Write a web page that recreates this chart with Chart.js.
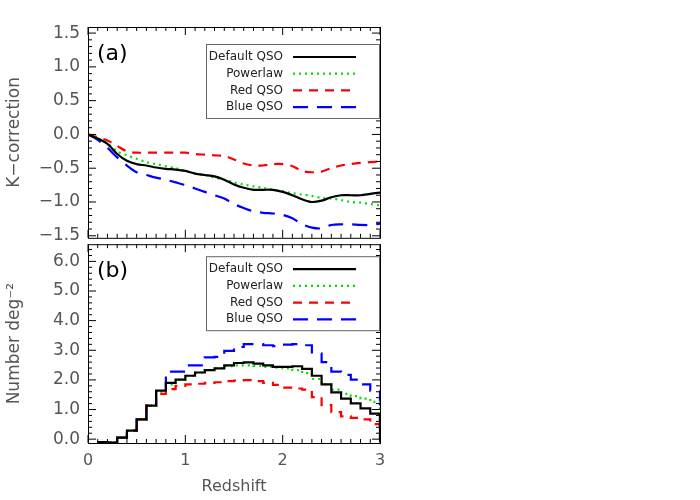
<!DOCTYPE html>
<html><head><meta charset="utf-8">
<script src="https://cdn.jsdelivr.net/npm/chart.js@4/dist/chart.umd.min.js"></script>
<style>body{margin:0;background:#fff;width:700px;height:500px;position:relative;overflow:hidden}
canvas{position:absolute;left:0}</style></head><body>
<canvas id="c1" width="700" height="256" style="top:0"></canvas>
<canvas id="c2" width="700" height="274" style="top:226px"></canvas>
<script>
// ---- data ----
const zK = [0,0.1,0.2,0.3,0.4,0.5,0.6,0.7,0.8,0.9,1.0,1.1,1.2,1.3,1.4,1.5,1.6,1.7,1.8,1.9,2.0,2.1,2.2,2.3,2.4,2.5,2.6,2.7,2.8,2.9,3.0];
const kDefault = [0,-0.06,-0.14,-0.29,-0.39,-0.44,-0.46,-0.49,-0.51,-0.52,-0.54,-0.58,-0.60,-0.62,-0.67,-0.74,-0.79,-0.82,-0.82,-0.82,-0.85,-0.90,-0.96,-1.00,-0.98,-0.93,-0.90,-0.90,-0.90,-0.88,-0.86];
const kPowerlaw = [0,-0.06,-0.13,-0.25,-0.31,-0.36,-0.41,-0.44,-0.47,-0.50,-0.54,-0.58,-0.60,-0.64,-0.67,-0.71,-0.74,-0.77,-0.79,-0.82,-0.84,-0.87,-0.89,-0.91,-0.94,-0.95,-0.97,-1.00,-1.01,-1.03,-1.05];
const kRed = [0,-0.04,-0.09,-0.17,-0.25,-0.27,-0.27,-0.27,-0.27,-0.27,-0.27,-0.29,-0.30,-0.31,-0.32,-0.37,-0.43,-0.46,-0.46,-0.44,-0.44,-0.47,-0.54,-0.56,-0.55,-0.50,-0.46,-0.44,-0.42,-0.41,-0.40];
const kBlue = [0,-0.08,-0.20,-0.34,-0.46,-0.56,-0.60,-0.64,-0.67,-0.71,-0.75,-0.80,-0.85,-0.90,-0.95,-1.03,-1.09,-1.14,-1.16,-1.17,-1.19,-1.24,-1.33,-1.38,-1.39,-1.34,-1.33,-1.33,-1.34,-1.34,-1.32];
const zBin = [0.1,0.2,0.3,0.4,0.5,0.6,0.7,0.8,0.9,1.0,1.1,1.2,1.3,1.4,1.5,1.6,1.7,1.8,1.9,2.0,2.1,2.2,2.3,2.4,2.5,2.6,2.7,2.8,2.9,3.0];
const nDefault = [-0.1,-0.12,0.05,0.29,0.67,1.13,1.64,1.90,2.01,2.14,2.25,2.33,2.39,2.49,2.57,2.59,2.55,2.49,2.44,2.44,2.46,2.37,2.14,1.85,1.58,1.37,1.21,1.04,0.86,0.0];
const nPowerlaw = [-0.1,-0.12,0.05,0.29,0.67,1.13,1.60,1.85,2.01,2.14,2.25,2.33,2.39,2.46,2.49,2.49,2.47,2.44,2.41,2.39,2.33,2.23,2.03,1.85,1.67,1.53,1.45,1.37,1.26,0.0];
const nRed = [-0.1,-0.12,0.05,0.29,0.67,1.13,1.53,1.69,1.80,1.85,1.87,1.90,1.92,1.96,1.98,1.99,1.96,1.90,1.83,1.74,1.71,1.67,1.42,1.15,0.91,0.77,0.72,0.67,0.51,0.0];
const nBlue = [-0.1,-0.12,0.05,0.29,0.67,1.13,1.64,2.28,2.28,2.49,2.49,2.76,2.78,2.98,3.11,3.21,3.21,3.17,3.14,3.19,3.21,3.17,2.89,2.60,2.28,2.17,2.01,1.85,1.64,-0.1];
const labels = ["Default QSO","Powerlaw","Red QSO","Blue QSO"];
const colors = ["#000000","#00e000","#ff0000","#0000ff"];
const dashes = [[],[2,4],[9,7],[15,9]];
const kTicks = [-1.5,-1.0,-0.5,0.0,0.5,1.0,1.5];
const nTicks = [0,1,2,3,4,5,6];
const xTicks = [0,1,2,3];

const FONT = "DejaVu Sans";
const GRAY = "#555";
function fmt(v){ const s=Math.abs(v).toFixed(1); return v<0 ? "\u2212"+s : s; }

function mk(xs, ys, i, stepped){
  return {label:labels[i], data:xs.map((x,j)=>({x:x,y:ys[j]})), borderColor:colors[i],
    borderDash:dashes[i], borderWidth:2.2, pointRadius:0, fill:false,
    stepped:stepped, tension:stepped?0:0.3};
}

function framePlugin(tag, box, yMinor){
  return {id:'frame'+tag, afterDraw(ch){
    const c=ch.ctx, a=ch.chartArea, xs=ch.scales.x, ys=ch.scales.y;
    c.save(); c.strokeStyle="#000"; c.lineWidth=1; c.setLineDash([]);
    c.strokeRect(a.left+0.5,a.top+0.5,a.right-a.left,a.bottom-a.top);
    c.beginPath();
    for(let k=0;k<=30;k++){ const v=k/10, px=xs.getPixelForValue(v), L=(k%10===0)?8:4;
      c.moveTo(px,a.bottom); c.lineTo(px,a.bottom-L); c.moveTo(px,a.top); c.lineTo(px,a.top+L); }
    const t=ys.ticks.map(t=>t.value);
    for(let v=Math.ceil(ys.min/yMinor)*yMinor; v<=ys.max+1e-9; v+=yMinor){
      const py=ys.getPixelForValue(v); const major=t.some(q=>Math.abs(q-v)<1e-6); const L=major?8:4;
      c.moveTo(a.left,py); c.lineTo(a.left+L,py); c.moveTo(a.right,py); c.lineTo(a.right-L,py); }
    c.stroke();
    c.fillStyle="#000"; c.font="22px "+FONT; c.textBaseline="middle"; c.textAlign="left";
    c.fillText(tag, a.left+9, a.top+box.tagDy);
    const bx=box.x, by=a.top+box.dy;
    c.fillStyle="#fff"; c.strokeStyle="#666";
    c.fillRect(bx,by,box.w,box.h); c.strokeRect(bx+0.5,by+0.5,box.w,box.h);
    c.font="12px "+FONT; c.textAlign="right";
    ch.data.datasets.forEach((d,i)=>{ const yy=by+13+i*16.7;
      c.fillStyle="#222"; c.fillText(d.label, bx+77, yy);
      c.beginPath(); c.strokeStyle=d.borderColor; c.lineWidth=2.2; c.setLineDash(d.borderDash);
      c.moveTo(bx+87,yy); c.lineTo(bx+150,yy); c.stroke(); });
    c.restore();
  }};
}

function opts(yMin,yMax,yTicks,yTitle,showX,padTop,padBottom,xH){
  return {responsive:false, animation:false, devicePixelRatio:1,
    layout:{padding:{left:0,right:320,top:padTop,bottom:padBottom}},
    plugins:{legend:{display:false},tooltip:{enabled:false}},
    scales:{
      x:{type:'linear',min:0,max:3,display:showX,
        grid:{display:false,drawTicks:false},border:{display:false},
        afterBuildTicks(s){s.ticks=xTicks.map(v=>({value:v}));},
        afterFit(s){ if(showX) s.height=xH; },
        ticks:{color:GRAY,font:{family:FONT,size:16},padding:8,maxRotation:0},
        title:{display:showX,text:"Redshift",color:GRAY,font:{family:FONT,size:16},padding:{top:2}}},
      y:{min:yMin,max:yMax,
        grid:{display:false,drawTicks:false},border:{display:false},
        afterBuildTicks(s){s.ticks=yTicks.map(v=>({value:v}));},
        afterFit(s){s.width=88;},
        ticks:{color:GRAY,font:{family:FONT,size:17},padding:8,callback:v=>fmt(v)},
        title:{display:true,text:yTitle,color:GRAY,font:{family:FONT,size:17},padding:{bottom:4}}}
    }};
}

new Chart(document.getElementById('c1'),{type:'line',
  data:{datasets:[mk(zK,kDefault,0,false),mk(zK,kPowerlaw,1,false),mk(zK,kRed,2,false),mk(zK,kBlue,3,false)]},
  options:opts(-1.53,1.59,kTicks,"K\u2212correction",false,27,2,0),
  plugins:[framePlugin("(a)",{x:206,dy:17,w:173,h:74,tagDy:27},0.1)]});

new Chart(document.getElementById('c2'),{type:'line',
  data:{datasets:[0,1,2,3].map(i=>mk(zBin,[nDefault,nPowerlaw,nRed,nBlue][i],i,true))},
  options:opts(-0.13,6.58,nTicks,"Number deg\u207B\u00B2",true,0,0,57),
  plugins:[framePlugin("(b)",{x:206,dy:12,w:173,h:74,tagDy:27},0.2)]});
</script></body></html>
